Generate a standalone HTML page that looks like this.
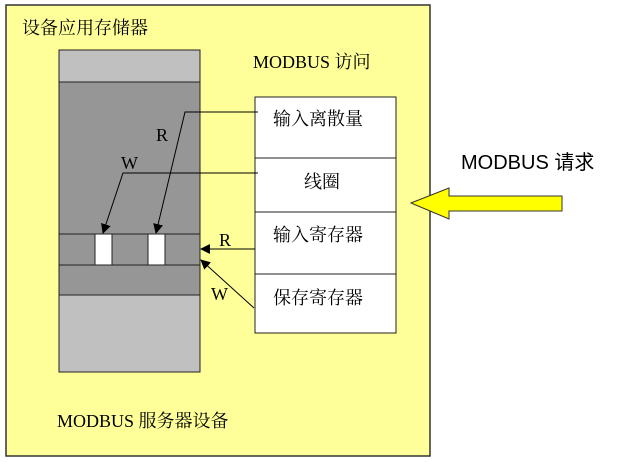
<!DOCTYPE html>
<html><head><meta charset="utf-8"><style>
body{margin:0;background:#fff;width:620px;height:462px;overflow:hidden}
</style></head><body>
<svg width="620" height="462" xmlns="http://www.w3.org/2000/svg" style="position:absolute;left:0;top:0">
<defs>
<marker id="a" markerWidth="10" markerHeight="10" refX="9" refY="5" orient="auto" markerUnits="userSpaceOnUse" viewBox="0 0 10 10">
<path d="M0,0 L10,5 L0,10 Z" fill="#000"/></marker>
</defs>
<rect x="6" y="5" width="424" height="451" fill="#ffff99" stroke="#333" stroke-width="1.5"/>
<rect x="59" y="50" width="141" height="322" fill="#c0c0c0" stroke="#222" stroke-width="1"/>
<rect x="59" y="82" width="141" height="213" fill="#969696" stroke="#222" stroke-width="1"/>
<line x1="59" y1="234" x2="200" y2="234" stroke="#222"/>
<line x1="59" y1="265" x2="200" y2="265" stroke="#222"/>
<rect x="95" y="234" width="17" height="31" fill="#fff" stroke="#222"/>
<rect x="148" y="234" width="17" height="31" fill="#fff" stroke="#222"/>
<rect x="255" y="97" width="141" height="236" fill="#fff" stroke="#222"/>
<line x1="255" y1="158" x2="396" y2="158" stroke="#222"/>
<line x1="255" y1="212" x2="396" y2="212" stroke="#222"/>
<line x1="255" y1="274" x2="396" y2="274" stroke="#222"/>
<polyline points="258,112 185,112 156,233" fill="none" stroke="#000" marker-end="url(#a)"/>
<polyline points="258,173 123,173 103,233" fill="none" stroke="#000" marker-end="url(#a)"/>
<line x1="255" y1="249" x2="201" y2="249" stroke="#000" marker-end="url(#a)"/>
<line x1="254" y1="308" x2="201" y2="260" stroke="#000" marker-end="url(#a)"/>
<polygon points="411,203 449,188 449,196 562,196 562,211 449,211 449,219" fill="#ffff00" stroke="#333"/>
<g font-family="Liberation Serif, Noto Serif CJK SC, serif" font-size="18" fill="#000">
<text x="22" y="34">设备应用存储器</text>
<text x="253" y="68">MODBUS 访问</text>
<text x="57" y="427">MODBUS 服务器设备</text>
<text x="273" y="125">输入离散量</text>
<text x="304" y="188">线圈</text>
<text x="273" y="241">输入寄存器</text>
<text x="273" y="304">保存寄存器</text>
<text x="156" y="141">R</text>
<text x="121" y="169">W</text>
<text x="219" y="246">R</text>
<text x="211" y="300">W</text>
</g>
<text x="461" y="169" font-family="Liberation Sans, Noto Sans CJK SC, sans-serif" font-size="20">MODBUS 请求</text>
</svg>
</body></html>
